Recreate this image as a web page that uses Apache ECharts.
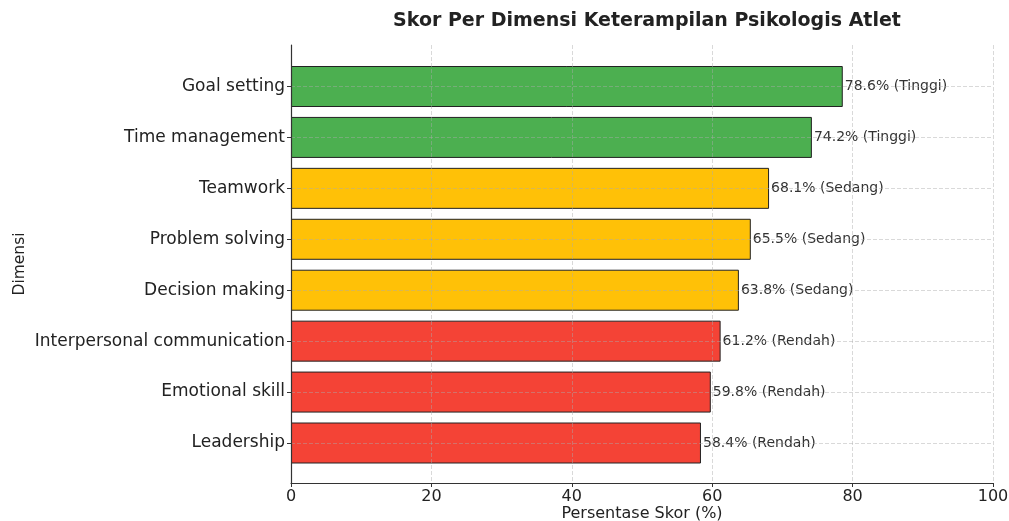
<!DOCTYPE html>
<html>
<head>
<meta charset="utf-8">
<script src="https://cdn.jsdelivr.net/npm/echarts@6/dist/echarts.min.js"></script>
<style>
  html, body { margin: 0; padding: 0; background: #fff; }
  #main { width: 1009px; height: 521px; }
</style>
</head>
<body>
<div id="main"></div>
<script>
var dimensi = ['Goal setting', 'Time management', 'Teamwork', 'Problem solving',
    'Decision making', 'Interpersonal communication', 'Emotional skill', 'Leadership'];
var skor = [78.6, 74.2, 68.1, 65.5, 63.8, 61.2, 59.8, 58.4];
var kategori = ['Tinggi', 'Tinggi', 'Sedang', 'Sedang', 'Sedang', 'Rendah', 'Rendah', 'Rendah'];
var xTicks = [0, 20, 40, 60, 80, 100];

var warna = { Tinggi: '#4CAF50', Sedang: '#FFC107', Rendah: '#F44336' };
var font = 'DejaVu Sans';
var gridColor = 'rgba(170,170,170,0.45)';

var chart = echarts.init(document.getElementById('main'));

var barData = skor.map(function (v, i) {
    return {
        value: v,
        itemStyle: { color: warna[kategori[i]] },
        label: { formatter: v.toFixed(1) + '% (' + kategori[i] + ')' }
    };
});

var option = {
    animation: false,
    backgroundColor: '#fff',
    title: {
        text: 'Skor Per Dimensi Keterampilan Psikologis Atlet',
        left: 642,
        textAlign: 'center',
        top: 7,
        textStyle: { fontFamily: font, fontSize: 19, fontWeight: 'bold', color: '#222' }
    },
    grid: [
        // kerangka: garis sumbu + grid vertikal
        { left: 291, right: 16, top: 45, height: 438, outerBoundsMode: 'none', containLabel: false },
        // batang
        { left: 291, right: 16, top: 86.5, height: 356.5, outerBoundsMode: 'none', containLabel: false }
    ],
    xAxis: [
        {
            gridIndex: 0,
            type: 'value',
            min: xTicks[0],
            max: xTicks[xTicks.length - 1],
            interval: 20,
            name: 'Persentase Skor (%)',
            nameLocation: 'middle',
            nameGap: 23,
            nameMoveOverlap: false,
            nameTextStyle: { fontFamily: font, fontSize: 16, color: '#222' },
            axisLine: { show: true, lineStyle: { color: '#333', width: 1.2 } },
            axisTick: { show: true, length: 4, lineStyle: { color: '#333' } },
            axisLabel: { fontFamily: font, fontSize: 16, color: '#222', margin: 6 },
            splitLine: { show: true, lineStyle: { color: gridColor, type: [4, 2], width: 1 } },
            z: 3
        },
        {
            gridIndex: 1,
            type: 'value',
            min: 0,
            max: 100,
            show: false
        }
    ],
    yAxis: [
        {
            gridIndex: 0,
            type: 'value',
            min: 0,
            max: 1,
            axisLine: { show: true, lineStyle: { color: '#333', width: 1.2 } },
            axisTick: { show: false },
            axisLabel: { show: false },
            splitLine: { show: false },
            name: 'Dimensi',
            nameLocation: 'middle',
            nameRotate: 90,
            nameGap: 263,
            nameMoveOverlap: false,
            nameTextStyle: { fontFamily: font, fontSize: 15.5, color: '#222' },
            z: 3
        },
        {
            gridIndex: 1,
            type: 'category',
            data: dimensi,
            inverse: true,
            boundaryGap: false,
            axisLine: { show: false },
            axisTick: { show: true, length: 4, lineStyle: { color: '#333' } },
            axisLabel: { fontFamily: font, fontSize: 17, color: '#222', margin: 6 },
            splitLine: { show: true, lineStyle: { color: gridColor, type: [4, 2], width: 1 } },
            z: 3
        }
    ],
    series: [
        {
            type: 'bar',
            xAxisIndex: 1,
            yAxisIndex: 1,
            data: barData,
            barWidth: 41,
            clip: false,
            itemStyle: { borderColor: '#222', borderWidth: 1 },
            label: {
                show: true,
                position: 'right',
                distance: 2,
                fontFamily: font,
                fontSize: 14,
                color: '#333'
            },
            z: 2
        }
    ]
};

chart.setOption(option);
</script>
</body>
</html>
